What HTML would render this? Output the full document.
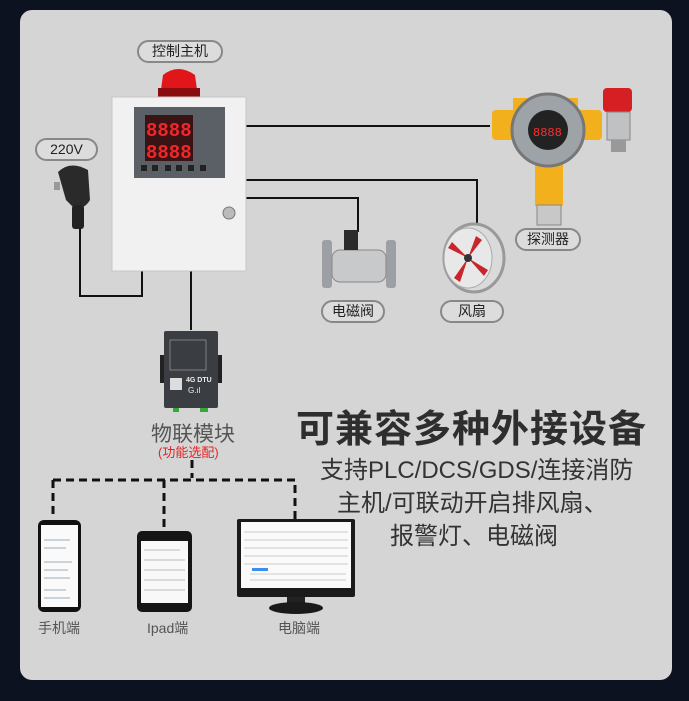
<!DOCTYPE html>
<html><head><meta charset="utf-8"><style>
*{margin:0;padding:0;box-sizing:border-box}
body{width:689px;height:701px;background:#0d1220;position:relative;overflow:hidden;font-family:"Liberation Sans","Noto Sans CJK SC",sans-serif}
.a{position:absolute}
.panel{left:20px;top:10px;width:652px;height:670px;background:#d5d5d5;border-radius:12px}
.pill{position:absolute;border:2px solid #888;border-radius:14px;background:#dcdcdc;color:#222;font-size:14px;text-align:center}
.t{position:absolute;color:#333;white-space:nowrap}
</style></head><body>
<div class="a panel"></div>
<svg class="a" style="left:0;top:0" width="689" height="701">
 <g stroke="#111" stroke-width="2" fill="none">
  <path d="M246 126H490"/>
  <path d="M246 180H477V232"/>
  <path d="M246 198H358V232"/>
  <path d="M80 228V296H142V270"/>
  <path d="M191 270V330"/>
 </g>
 <g stroke="#111" stroke-width="3" fill="none" stroke-dasharray="8 5">
  <path d="M192 460V478"/>
  <path d="M53 480H295V520"/>
  <path d="M53 480V515"/>
  <path d="M164 480V540"/>
 </g>
 <path d="M160 97 L163 75 Q178 63 195 75 L198 97Z" fill="#e0161a"/>
 <rect x="158" y="88" width="42" height="9" fill="#8a0d10"/>
 <rect x="112" y="97" width="134" height="174" fill="#f1f1f1" stroke="#c8c8c8"/>
 <rect x="134" y="107" width="91" height="71" fill="#5b6066"/>
 <rect x="145" y="115" width="48" height="46" fill="#3a1414"/>
 <text x="146" y="136" fill="#f0272a" font-family="Liberation Mono" font-size="19" font-weight="bold">8888</text>
 <text x="146" y="158" fill="#f0272a" font-family="Liberation Mono" font-size="19" font-weight="bold">8888</text>
 <g fill="#222"><rect x="141" y="165" width="6" height="6"/><rect x="152" y="165" width="6" height="6"/><rect x="165" y="165" width="6" height="6"/><rect x="176" y="165" width="6" height="6"/><rect x="188" y="165" width="6" height="6"/><rect x="200" y="165" width="6" height="6"/></g>
 <circle cx="229" cy="213" r="6" fill="#bbb" stroke="#777"/>
 <path d="M58 172 Q70 160 88 170 L90 200 Q84 210 74 208 L66 200 Z" fill="#2a2a2a"/>
 <rect x="72" y="205" width="12" height="24" rx="3" fill="#222"/>
 <rect x="54" y="182" width="6" height="8" fill="#999"/>
 <rect x="513" y="98" width="65" height="20" fill="#f2b11c"/>
 <rect x="492" y="110" width="110" height="30" rx="4" fill="#f2b11c"/>
 <rect x="535" y="160" width="28" height="46" fill="#f2b11c"/>
 <rect x="537" y="205" width="24" height="20" fill="#c8c8c8" stroke="#888"/>
 <circle cx="548" cy="130" r="36" fill="#9ea3a8" stroke="#777" stroke-width="3"/>
 <circle cx="548" cy="130" r="20" fill="#222"/>
 <text x="533" y="136" fill="#ff3030" font-family="Liberation Mono" font-size="12">8888</text>
 <rect x="603" y="88" width="29" height="24" rx="4" fill="#d51f22"/>
 <rect x="607" y="112" width="23" height="28" fill="#bfc1c3" stroke="#888"/>
 <rect x="611" y="140" width="15" height="12" fill="#999"/>
 <rect x="322" y="240" width="10" height="48" rx="3" fill="#9ca0a4"/>
 <rect x="386" y="240" width="10" height="48" rx="3" fill="#9ca0a4"/>
 <rect x="332" y="250" width="54" height="32" rx="8" fill="#c7c9cb" stroke="#888"/>
 <rect x="344" y="230" width="14" height="20" fill="#2b2b2b"/>
 <ellipse cx="474" cy="258" rx="30" ry="34" fill="#dadada" stroke="#999" stroke-width="3"/>
 <ellipse cx="468" cy="258" rx="24" ry="30" fill="#e8e8e8" stroke="#aaa"/>
 <path d="M468 258 L448 248 L452 242Z M468 258 L476 236 L482 240Z M468 258 L488 270 L484 276Z M468 258 L460 282 L454 278Z" fill="#c8262b"/>
 <circle cx="468" cy="258" r="4" fill="#333"/>
 <rect x="160" y="355" width="6" height="28" fill="#222"/><rect x="216" y="355" width="6" height="28" fill="#222"/>
 <rect x="164" y="331" width="54" height="77" rx="2" fill="#3a3d42"/>
 <rect x="170" y="340" width="36" height="30" fill="none" stroke="#aaa" stroke-width="0.6"/>
 <rect x="170" y="378" width="12" height="12" fill="#ddd"/>
 <text x="186" y="382" fill="#eee" font-size="7" font-weight="bold">4G DTU</text>
 <text x="188" y="393" fill="#eee" font-size="8">G.ıl</text>
 <rect x="173" y="408" width="6" height="4" fill="#3a3"/><rect x="200" y="408" width="8" height="4" fill="#3a3"/>
 <rect x="38" y="520" width="43" height="92" rx="6" fill="#111"/>
 <rect x="41" y="525" width="37" height="82" fill="#fafafa"/>
 <g stroke="#9ab" stroke-width="1"><path d="M44 540H70M44 548H66M44 562H72M44 570H68M44 578H70M44 590H66M44 598H70"/></g>
 <rect x="137" y="531" width="55" height="81" rx="5" fill="#151515"/>
 <rect x="141" y="541" width="47" height="62" fill="#f8f8f8"/>
 <g stroke="#bbb" stroke-width="1"><path d="M144 550H180M144 560H185M144 570H185M144 580H185M144 590H185"/></g>
 <rect x="237" y="519" width="118" height="78" rx="2" fill="#1a1a1a"/>
 <rect x="241" y="522" width="110" height="66" fill="#fafafa"/>
 <g stroke="#ccc" stroke-width="1"><path d="M244 532H348M244 540H348M244 548H348M244 556H348M244 564H348M250 574H346M250 580H346"/></g>
 <rect x="252" y="568" width="16" height="3" fill="#3a8ef0"/>
 <rect x="287" y="597" width="18" height="8" fill="#222"/>
 <ellipse cx="296" cy="608" rx="27" ry="6" fill="#1a1a1a"/>
</svg>
<div class="pill" style="left:137px;top:40px;width:86px;height:23px;line-height:19px">控制主机</div>
<div class="pill" style="left:35px;top:138px;width:63px;height:23px;line-height:19px">220V</div>
<div class="pill" style="left:515px;top:228px;width:66px;height:23px;line-height:19px">探测器</div>
<div class="pill" style="left:321px;top:300px;width:64px;height:23px;line-height:19px">电磁阀</div>
<div class="pill" style="left:440px;top:300px;width:64px;height:23px;line-height:19px">风扇</div>
<div class="t" style="left:151px;top:418px;font-size:21px;color:#555">物联模块</div>
<div class="t" style="left:158px;top:442px;font-size:13px;color:#e62424">(功能选配)</div>
<div class="t" style="left:38px;top:618px;font-size:14px;color:#555">手机端</div>
<div class="t" style="left:147px;top:618px;font-size:14px;color:#555">Ipad端</div>
<div class="t" style="left:278px;top:618px;font-size:14px;color:#555">电脑端</div>
<div class="t" style="left:296px;top:398px;font-size:38px;font-weight:bold;color:#2e2e2e;letter-spacing:1px">可兼容多种外接设备</div>
<div class="t" style="left:320px;top:450px;font-size:24px">支持PLC/DCS/GDS/连接消防</div>
<div class="t" style="left:337px;top:483px;font-size:24px">主机/可联动开启排风扇、</div>
<div class="t" style="left:390px;top:516px;font-size:24px">报警灯、电磁阀</div>
</body></html>
